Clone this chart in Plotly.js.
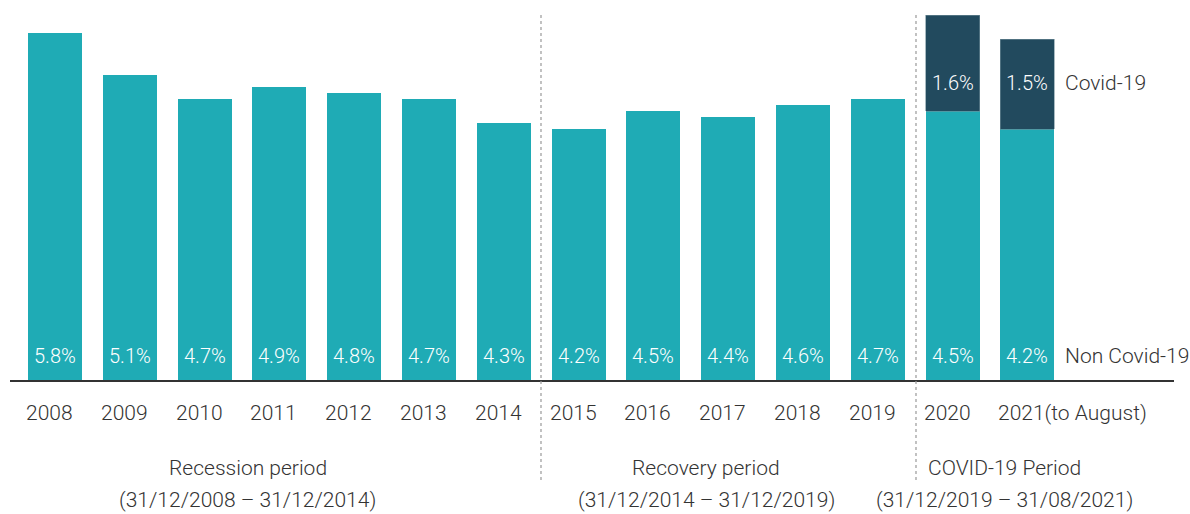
<!DOCTYPE html>
<html>
<head>
<meta charset="utf-8">
<script src="https://cdn.plot.ly/plotly-3.0.1.min.js"></script>
<style>html,body{margin:0;padding:0;background:#fff;}#chart{width:1190px;height:514px;}</style>
</head>
<body>
<div id="chart"></div>
<script>
const years = ["2008","2009","2010","2011","2012","2013","2014","2015","2016","2017","2018","2019","2020","2021(to August)"];
const nonCovid = [5.8,5.1,4.7,4.9,4.8,4.7,4.3,4.2,4.5,4.4,4.6,4.7,4.5,4.2];
const covid = [null,null,null,null,null,null,null,null,null,null,null,null,1.6,1.5];
const periods = ["Recession period","Recovery period","COVID-19 Period"];
const periodDates = ["(31/12/2008 \u2013 31/12/2014)","(31/12/2014 \u2013 31/12/2019)","(31/12/2019 \u2013 31/08/2021)"];
const seriesNames = ["Non Covid-19","Covid-19"];

const teal = "#1fabb5";
const dark = "#224a5e";
const txt = "#333333";
const fam = "Roboto, 'Open Sans', sans-serif";

const traces = [
  {type:"bar", x:years, y:nonCovid, name:seriesNames[0], marker:{color:teal}, hoverinfo:"skip"},
  {type:"bar", x:years, y:covid, name:seriesNames[1], marker:{color:dark, line:{color:"#6f8d9a", width:0.6}}, hoverinfo:"skip"}
];

const annotations = [];
years.forEach((yr,i)=>{
  annotations.push({x:i, y:0, xref:"x", yref:"y", yanchor:"middle", xanchor:"center", yshift:25,
    text:nonCovid[i].toFixed(1)+"%", showarrow:false, font:{family:fam, size:20, color:"#ffffff", weight:300}});
  if (covid[i] != null) {
    annotations.push({x:i, y:0.782, xref:"x", yref:"paper", yanchor:"middle", xanchor:"center",
      text:covid[i].toFixed(1)+"%", showarrow:false, font:{family:fam, size:20, color:"#ffffff", weight:300}});
  }
  annotations.push({x:i, y:-0.085, xref:"x", yref:"paper", yanchor:"middle", xanchor:"left", xshift:-31,
    text:yr, showarrow:false, font:{family:fam, size:21, color:txt, weight:300}});
});
annotations.push({x:13, y:0.782, xref:"x", yref:"paper", xanchor:"left", yanchor:"middle", xshift:36,
  text:seriesNames[1], showarrow:false, font:{family:fam, size:21, color:txt, weight:300}});
annotations.push({x:13, y:0, xref:"x", yref:"y", xanchor:"left", yanchor:"middle", xshift:36, yshift:25,
  text:seriesNames[0], showarrow:false, font:{family:fam, size:21, color:txt, weight:300}});
const periodX = [0.2084, 0.5933, 0.8437];
periods.forEach((p,i)=>{
  annotations.push({x:periodX[i], y:-0.228, xref:"paper", yref:"paper", xanchor:"center", yanchor:"middle",
    text:p, showarrow:false, font:{family:fam, size:21, color:txt, weight:300}});
  annotations.push({x:periodX[i], y:-0.312, xref:"paper", yref:"paper", xanchor:"center", yanchor:"middle",
    text:periodDates[i], showarrow:false, font:{family:fam, size:21, color:txt, weight:300}});
});

const shapes = [
  {type:"line", xref:"paper", yref:"paper", x0:10/1190, x1:1174/1190, y0:0, y1:0, line:{color:"#333333", width:2}},
  {type:"line", xref:"paper", yref:"paper", x0:541/1190, x1:541/1190, y0:-0.26, y1:0.961, line:{color:"#999999", width:1.2, dash:"dot"}},
  {type:"line", xref:"paper", yref:"paper", x0:916/1190, x1:916/1190, y0:-0.26, y1:0.961, line:{color:"#999999", width:1.2, dash:"dot"}}
];

const layout = {
  width:1190, height:514,
  margin:{l:0, r:0, t:0, b:133},
  paper_bgcolor:"#ffffff", plot_bgcolor:"#ffffff",
  barmode:"stack", bargap:0.28,
  showlegend:false,
  xaxis:{type:"category", range:[-0.735, 15.174], showticklabels:false, showgrid:false, zeroline:false, showline:false, ticks:""},
  yaxis:{range:[0, 6.35], showticklabels:false, showgrid:false, zeroline:false, showline:false, ticks:""},
  annotations:annotations,
  shapes:shapes,
  font:{family:fam, color:txt}
};

Plotly.newPlot("chart", traces, layout, {displayModeBar:false, staticPlot:true});
</script>
</body>
</html>
